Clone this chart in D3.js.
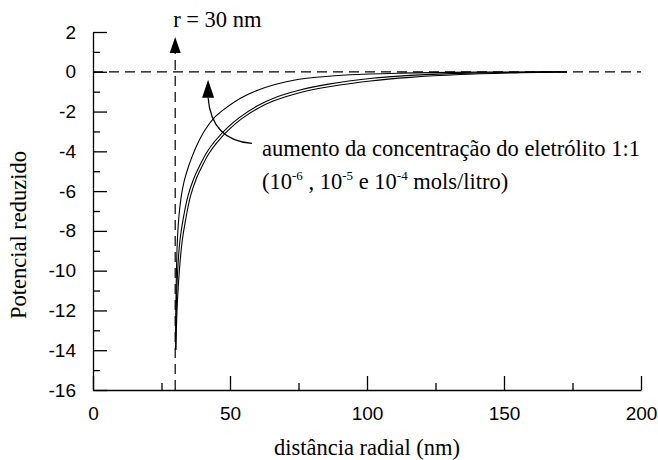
<!DOCTYPE html>
<html>
<head>
<meta charset="utf-8">
<script src="https://cdn.jsdelivr.net/npm/d3@7"></script>
<style>
    body { margin: 0; background: #fff; }
    .tick text { font-family: "Liberation Sans", Arial, sans-serif; font-size: 19px; fill: #000; }
    .serif { font-family: "Liberation Serif", "Times New Roman", serif; font-size: 22.5px; fill: #000; }
</style>
</head>
<body>
<div id="chart"></div>
<script>
// axis ticks
const xMajor = [0, 50, 100, 150, 200];
const xMinor = [25, 75, 125, 175];
const yMajor = [2, 0, -2, -4, -6, -8, -10, -12, -14, -16];
const yMinor = [1, -1, -3, -5, -7, -9, -11, -13, -15];

// reduced potential vs radial distance (nm)
// 10^-4 mol/L (upper curve)
const curve1e4 = [
    [30.18, -13.99], [30.29, -11.47], [30.66, -8.96], [31.2, -7.55], [32.12, -6.34],
    [33.21, -5.54], [34.67, -4.84], [36.13, -4.28], [37.96, -3.68], [40.88, -2.93],
    [44.53, -2.27], [48.18, -1.85], [53.65, -1.34], [59.85, -0.94], [66.42, -0.64],
    [73.72, -0.41], [82.85, -0.26], [93.8, -0.15], [112, -0.07], [130.3, -0.03],
    [155.8, -0.01], [173, 0]
];
// 10^-5 mol/L
const curve1e5 = [
    [30.18, -13.99], [30.47, -11.47], [31.02, -9.71], [31.75, -8.46], [32.85, -7.45],
    [34.67, -6.24], [36.86, -5.34], [39.05, -4.69], [41.61, -4.03], [44.53, -3.48],
    [49.27, -2.78], [53.65, -2.28], [59.85, -1.72], [65.69, -1.34], [75.55, -0.92],
    [86.5, -0.61], [101.09, -0.34], [115.69, -0.18], [133.94, -0.08], [155.84, -0.03],
    [173, -0.005]
];
// 10^-6 mol/L (lowest curve)
const curve1e6 = [
    [30.18, -13.99], [30.84, -11.47], [31.68, -9.71], [32.59, -8.47], [33.76, -7.47],
    [35.55, -6.27], [37.7, -5.38], [39.85, -4.74], [42.37, -4.1], [45.22, -3.56],
    [49.89, -2.87], [54.2, -2.37], [60.29, -1.83], [66.02, -1.46], [75.77, -1.04],
    [86.64, -0.74], [101.2, -0.46], [115.7, -0.28], [133.9, -0.14], [155.8, -0.05],
    [173, -0.005]
];
const particleRadius = 30;

// chart settings
const svgWidth = 658;
const svgHeight = 460;
const margins = { top: 32, right: 17, bottom: 70, left: 93 };
const chartWidth = svgWidth - margins.left - margins.right;
const chartHeight = svgHeight - margins.top - margins.bottom;

const svg = d3.select("#chart")
    .append("svg")
    .attr("width", svgWidth)
    .attr("height", svgHeight);

const chartGroup = svg.append("g")
    .attr("transform", `translate(${margins.left}, ${margins.top})`);

const xScale = d3.scaleLinear().domain([0, 200]).range([0, chartWidth]);
const yScale = d3.scaleLinear().domain([-16, 2]).range([chartHeight, 0]);

// plain hyphen for the minus sign, like the original
const fmt = d => String(d);

// minor ticks first, major axis on top
chartGroup.append("g")
    .attr("transform", `translate(0, ${chartHeight})`)
    .call(d3.axisBottom(xScale).tickValues(xMinor).tickSizeInner(-7).tickSizeOuter(0).tickFormat(""))
    .call(g => g.select(".domain").remove());
chartGroup.append("g")
    .call(d3.axisLeft(yScale).tickValues(yMinor).tickSizeInner(-7).tickSizeOuter(0).tickFormat(""))
    .call(g => g.select(".domain").remove());

chartGroup.append("g")
    .attr("transform", `translate(0, ${chartHeight})`)
    .call(d3.axisBottom(xScale).tickValues(xMajor).tickSizeInner(-14).tickSizeOuter(0).tickPadding(17).tickFormat(fmt));
chartGroup.append("g")
    .call(d3.axisLeft(yScale).tickValues(yMajor).tickSizeInner(-14).tickSizeOuter(0).tickPadding(17).tickFormat(fmt));

chartGroup.selectAll(".domain, .tick line")
    .attr("stroke", "#000")
    .attr("stroke-width", 1.3);

// dashed reference lines
chartGroup.append("line")
    .attr("x1", xScale(0)).attr("x2", xScale(200))
    .attr("y1", yScale(0)).attr("y2", yScale(0))
    .attr("stroke", "#000").attr("stroke-width", 1.2)
    .attr("stroke-dasharray", "10,6");

const arrowTop = yScale(2) + 5;
chartGroup.append("line")
    .attr("x1", xScale(particleRadius)).attr("x2", xScale(particleRadius))
    .attr("y1", chartHeight).attr("y2", arrowTop + 16)
    .attr("stroke", "#000").attr("stroke-width", 1.2)
    .attr("stroke-dasharray", "10,6");
chartGroup.append("path")
    .attr("d", `M${xScale(particleRadius)},${arrowTop} l-5.5,16 l11,0 z`)
    .attr("fill", "#000");

chartGroup.append("text")
    .attr("class", "serif")
    .attr("x", xScale(particleRadius) - 2)
    .attr("y", -5)
    .text("r = 30 nm");

// curves
const line = d3.line()
    .x(d => xScale(d[0]))
    .y(d => yScale(d[1]))
    .curve(d3.curveCatmullRom.alpha(0.5));

chartGroup.selectAll(".curve")
    .data([curve1e4, curve1e5, curve1e6])
    .enter()
    .append("path")
    .attr("class", "curve")
    .attr("d", line)
    .attr("fill", "none")
    .attr("stroke", "#000")
    .attr("stroke-width", 1.1);

// curved arrow for the annotation
const aStart = [xScale(58), yScale(-3.6)];
const aCtrl = [xScale(43.2), yScale(-3.45)];
const aEnd = [xScale(42), yScale(-1.3)];
chartGroup.append("path")
    .attr("d", `M${aStart} Q${aCtrl} ${aEnd}`)
    .attr("fill", "none")
    .attr("stroke", "#000")
    .attr("stroke-width", 1.2);
chartGroup.append("path")
    .attr("d", `M${aEnd[0]},${aEnd[1] - 18} l-6,18 l12,0 z`)
    .attr("fill", "#000");

const note = chartGroup.append("text")
    .attr("class", "serif")
    .attr("x", 169)
    .attr("y", 124);
note.text("aumento da concentração do eletrólito 1:1");

const note2 = chartGroup.append("text")
    .attr("class", "serif")
    .attr("x", 169)
    .attr("y", 157);
note2.append("tspan").text("(10");
note2.append("tspan").attr("dy", -9).style("font-size", "13px").text("-6");
note2.append("tspan").attr("dy", 9).text(" , 10");
note2.append("tspan").attr("dy", -9).style("font-size", "13px").text("-5");
note2.append("tspan").attr("dy", 9).text(" e 10");
note2.append("tspan").attr("dy", -9).style("font-size", "13px").text("-4");
note2.append("tspan").attr("dy", 9).text(" mols/litro)");

// axis labels
chartGroup.append("text")
    .attr("class", "serif")
    .attr("text-anchor", "middle")
    .attr("x", chartWidth / 2)
    .attr("y", chartHeight + 65)
    .text("distância radial (nm)");

chartGroup.append("text")
    .attr("class", "serif")
    .attr("text-anchor", "middle")
    .attr("transform", "rotate(-90)")
    .attr("x", -(235 - margins.top))
    .attr("y", -67)
    .text("Potencial reduzido");
</script>
</body>
</html>
